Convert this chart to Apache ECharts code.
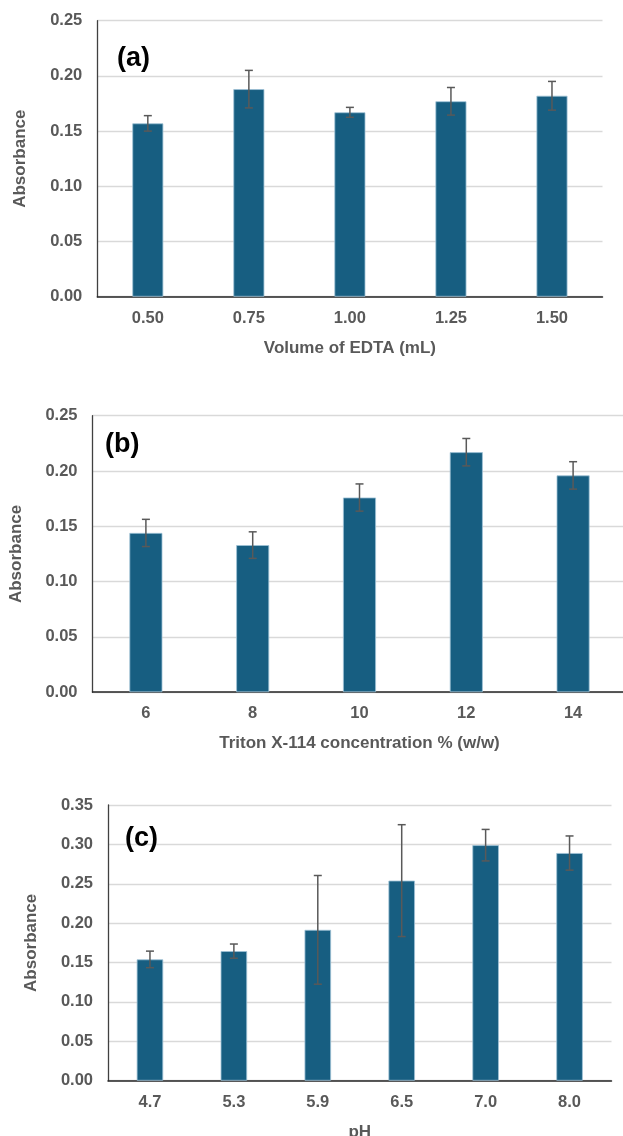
<!DOCTYPE html>
<html>
<head>
<meta charset="utf-8">
<script src="https://cdn.jsdelivr.net/npm/echarts@6/dist/echarts.min.js"></script>
<style>
  html, body { margin: 0; padding: 0; background: #ffffff; }
  #chart { width: 623px; height: 1136px; }
</style>
</head>
<body>
<div id="chart"></div>
<script>
// ---- Data ----
const catsA = ['0.50', '0.75', '1.00', '1.25', '1.50'];
const valsA = [0.157, 0.188, 0.167, 0.177, 0.182];
const errA  = [0.007, 0.017, 0.0045, 0.0125, 0.013];

const catsB = ['6', '8', '10', '12', '14'];
const valsB = [0.144, 0.133, 0.176, 0.217, 0.196];
const errB  = [0.0123, 0.012, 0.0123, 0.0124, 0.0124];

const catsC = ['4.7', '5.3', '5.9', '6.5', '7.0', '8.0'];
const valsC = [0.154, 0.1645, 0.1915, 0.254, 0.299, 0.289];
const errC  = [0.0105, 0.009, 0.069, 0.071, 0.020, 0.0217];

const panelLabels = ['(a)', '(b)', '(c)'];
const xTitles = ['Volume of EDTA (mL)', 'Triton X-114 concentration % (w/w)', 'pH'];
const yTitle = 'Absorbance';
const yMax = [0.25, 0.25, 0.35];
const yStep = 0.05;

// ---- Styles ----
const FONT = '"Liberation Sans", Arial, sans-serif';
const TXT = '#595959';
const BAR = '#175E81';
const ERR = '#595959';

const chart = echarts.init(document.getElementById('chart'), null, { renderer: 'canvas' });

const grids = [
  { left: 97.3, right: 20.5, top: 20.7, height: 276 },
  { left: 92.5, right: -3.5, top: 415.7, height: 276.5 },
  { left: 108, right: 11.5, top: 805, height: 275.7 }
];
const barWidths = [31, 33, 26.5];
const titlePos = [
  { left: 117, top: 45 },
  { left: 105, top: 431 },
  { left: 125, top: 825 }
];

const cats = [catsA, catsB, catsC];
const vals = [valsA, valsB, valsC];
const errs = [errA, errB, errC];

function errRender(params, api) {
  const x = api.value(0);
  const lo = api.coord([x, api.value(1)]);
  const hi = api.coord([x, api.value(2)]);
  const cap = 4;
  const style = { stroke: ERR, lineWidth: 1.5, fill: null };
  return {
    type: 'group',
    children: [
      { type: 'line', shape: { x1: hi[0], y1: hi[1], x2: lo[0], y2: lo[1] }, style: style },
      { type: 'line', shape: { x1: hi[0] - cap, y1: hi[1], x2: hi[0] + cap, y2: hi[1] }, style: style },
      { type: 'line', shape: { x1: lo[0] - cap, y1: lo[1], x2: lo[0] + cap, y2: lo[1] }, style: style }
    ]
  };
}

const option = {
  animation: false,
  backgroundColor: '#ffffff',
  title: panelLabels.map((t, i) => ({
    text: t,
    left: titlePos[i].left,
    top: titlePos[i].top,
    padding: 0,
    textStyle: { fontFamily: FONT, fontWeight: 'bold', fontSize: 27, color: '#000000' }
  })),
  grid: grids.map(g => Object.assign({ containLabel: false, outerBoundsMode: 'none' }, g)),
  xAxis: cats.map((c, i) => ({
    type: 'category',
    gridIndex: i,
    data: c,
    name: xTitles[i],
    nameLocation: 'middle',
    nameGap: 43,
    nameTextStyle: { fontFamily: FONT, fontWeight: 'bold', fontSize: 17, color: TXT },
    axisLine: { show: true, lineStyle: { color: '#262626', width: 1.5 } },
    axisTick: { show: false },
    axisLabel: { margin: 13, fontFamily: FONT, fontWeight: 'bold', fontSize: 16.5, color: TXT },
    splitLine: { show: false }
  })),
  yAxis: yMax.map((m, i) => ({
    type: 'value',
    gridIndex: i,
    min: 0,
    max: m,
    interval: yStep,
    name: yTitle,
    nameLocation: 'middle',
    nameGap: 68,
    nameTextStyle: { fontFamily: FONT, fontWeight: 'bold', fontSize: 17, color: TXT },
    axisLine: { show: true, lineStyle: { color: '#404040', width: 1.3 } },
    axisTick: { show: false },
    axisLabel: {
      margin: 15, fontFamily: FONT, fontWeight: 'bold', fontSize: 16.5, color: TXT,
      formatter: v => v.toFixed(2)
    },
    splitLine: { show: true, lineStyle: { color: '#D9D9D9', width: 1.3 } }
  })),
  series: [].concat(
    vals.map((v, i) => ({
      type: 'bar',
      xAxisIndex: i,
      yAxisIndex: i,
      data: v,
      barWidth: barWidths[i],
      itemStyle: { color: BAR, borderColor: '#9EC2D6', borderWidth: 0.8 },
      z: 2
    })),
    vals.map((v, i) => ({
      type: 'custom',
      xAxisIndex: i,
      yAxisIndex: i,
      renderItem: errRender,
      data: v.map((y, k) => [k, y - errs[i][k], y + errs[i][k]]),
      z: 3
    }))
  )
};

chart.setOption(option);
</script>
</body>
</html>
